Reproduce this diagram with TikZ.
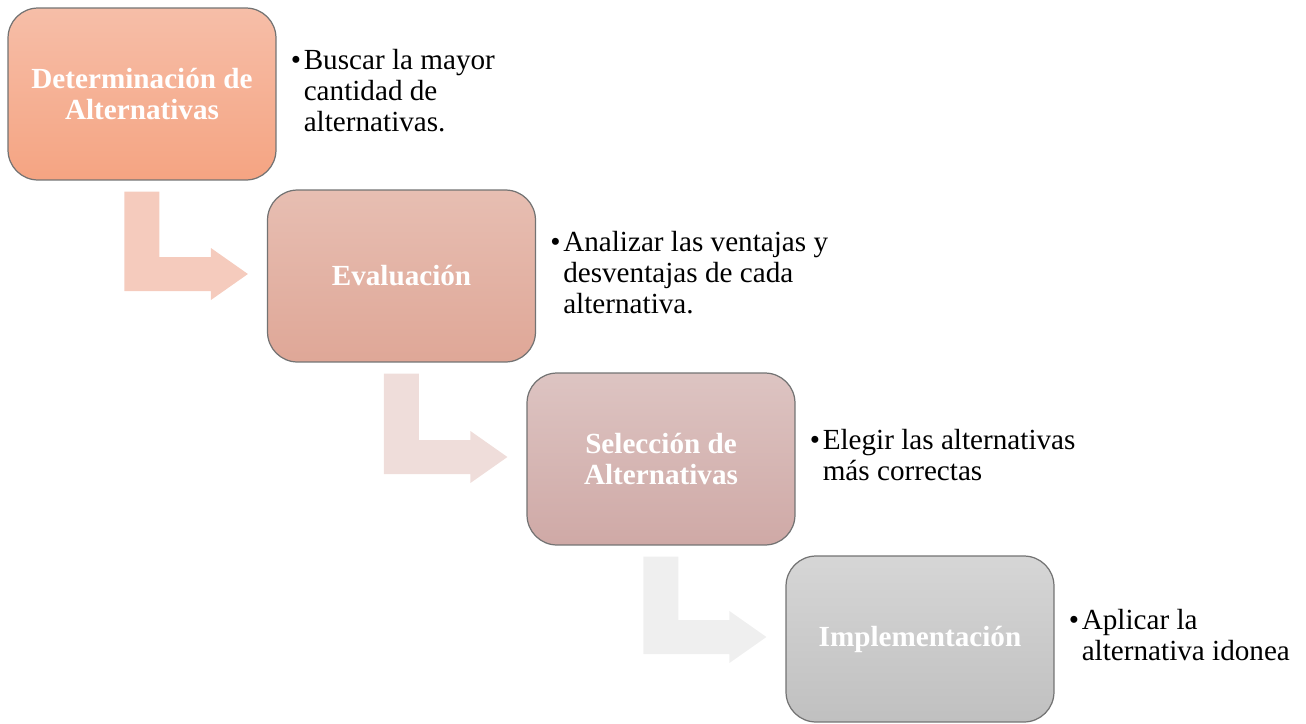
\documentclass[tikz,border=0pt]{standalone}
\usepackage{fontspec}
\setmainfont{Liberation Serif}
\usetikzlibrary{positioning, calc}

\definecolor{stepA}{HTML}{F5A482}
\definecolor{stepAtop}{HTML}{F6BEA8}
\definecolor{stepB}{HTML}{DFA797}
\definecolor{stepBtop}{HTML}{E7BEB2}
\definecolor{stepC}{HTML}{CFA9A6}
\definecolor{stepCtop}{HTML}{DDC4C2}
\definecolor{stepD}{HTML}{C0C0C0}
\definecolor{stepDtop}{HTML}{D6D6D6}
\definecolor{arrowA}{HTML}{F5CBBD}
\definecolor{arrowB}{HTML}{EFDDDA}
\definecolor{arrowC}{HTML}{EFEFEF}

\begin{document}
\begin{tikzpicture}[
    x=0.02cm, y=-0.02cm, % one unit = one pixel, y pointing down
    stepbox/.style={rounded corners=0.6cm, draw=black!55, line width=0.7pt,
        minimum width=5.36cm, minimum height=3.44cm, align=center,
        text=white, font=\fontsize{16.6}{18}\selectfont\bfseries},
    notestyle/.style={anchor=west, inner sep=0pt, align=left,
        font=\fontsize{16.6}{17.6}\selectfont}
]
\useasboundingbox (0,0) rectangle (1306,724);

% Step boxes
\node (det_box) [stepbox, top color=stepAtop, bottom color=stepA] at (142,94) {Determinación de\\Alternativas};
\node (eva_box) [stepbox, top color=stepBtop, bottom color=stepB] at (401.5,276) {Evaluación};
\node (sel_box) [stepbox, top color=stepCtop, bottom color=stepC] at (661,459) {Selección de\\Alternativas};
\node (imp_box) [stepbox, top color=stepDtop, bottom color=stepD, minimum height=3.32cm] at (920,639) {Implementación};

% Notes beside the boxes
\node (det_note) [notestyle, right=14 of det_box] {\begin{tabular}{@{}l@{\hspace{1.5pt}}l@{}}\textbullet & Buscar la mayor\\ & cantidad de\\ & alternativas.\end{tabular}};
\node (eva_note) [notestyle, right=14 of eva_box] {\begin{tabular}{@{}l@{\hspace{1.5pt}}l@{}}\textbullet & Analizar las ventajas y\\ & desventajas de cada\\ & alternativa.\end{tabular}};
\node (sel_note) [notestyle, right=14 of sel_box] {\begin{tabular}{@{}l@{\hspace{1.5pt}}l@{}}\textbullet & Elegir las alternativas\\ & más correctas\end{tabular}};
\node (imp_note) [notestyle, right=14 of imp_box] {\begin{tabular}{@{}l@{\hspace{1.5pt}}l@{}}\textbullet & Aplicar la\\ & alternativa idonea\end{tabular}};

% Bent arrows between the steps
\foreach \from/\to/\col in {det_box/eva_box/arrowA, eva_box/sel_box/arrowB, sel_box/imp_box/arrowC} {
    \coordinate (bar_top) at ($(\from.south west)+(117,11)$);
    \coordinate (tip) at ($(\to.west)+(-19,-2)$);
    \fill[\col] (bar_top) -- ++(35,0) -- ($(bar_top|-tip)+(35,-17)$) -- ($(tip)+(-37,-17)$)
        -- ++(0,-9) -- (tip) -- ($(tip)+(-37,26)$) -- ++(0,-9)
        -- ($(bar_top|-tip)+(0,17)$) -- cycle;
}

\end{tikzpicture}
\end{document}
